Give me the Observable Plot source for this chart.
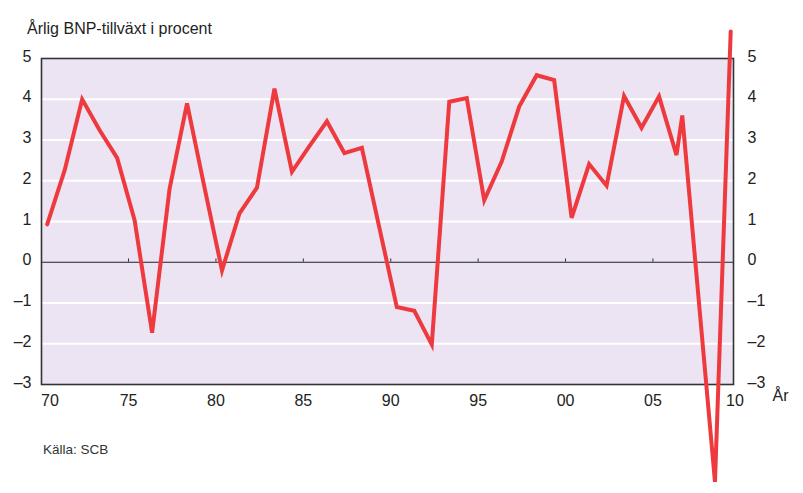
<!DOCTYPE html>
<html>
<head>
<meta charset="utf-8">
<script src="https://cdn.jsdelivr.net/npm/d3@7"></script>
<script src="https://cdn.jsdelivr.net/npm/@observablehq/plot@0.6"></script>
<style>
  html, body { margin: 0; padding: 0; background: #ffffff; }
  #wrap { position: relative; width: 803px; height: 493px; overflow: hidden; font-family: "Liberation Sans", Arial, sans-serif; }
  #title { position: absolute; left: 27px; top: 20px; font-size: 16px; color: #1e1e1e; white-space: nowrap; }
  #caption { position: absolute; left: 43px; top: 442px; font-size: 13.5px; color: #333; white-space: nowrap; }
  #chart { position: absolute; left: 0; top: 0; }
</style>
</head>
<body>
<div id="wrap">
  <div id="chart"></div>
  <div id="title">Årlig BNP-tillväxt i procent</div>
  <div id="caption">Källa: SCB</div>
</div>
<script>
// Year positions of the drawn points (last three as placed in the original drawing)
const years = [1971, 1972, 1973, 1974, 1975, 1976, 1977, 1978, 1979, 1980,
               1981, 1982, 1983, 1984, 1985, 1986, 1987, 1988, 1989, 1990,
               1991, 1992, 1993, 1994, 1995, 1996, 1997, 1998, 1999, 2000,
               2001, 2002, 2003, 2004, 2005, 2006, 2007, 2007.33, 2009.2, 2010.1];
// Annual GDP growth, percent
const growth = [0.93, 2.26, 4.0, 3.24, 2.56, 1.03, -1.73, 1.8, 3.9, 1.83,
                -0.2, 1.2, 1.83, 4.26, 2.22, 2.85, 3.46, 2.68, 2.81, 0.85,
                -1.1, -1.19, -2.02, 3.94, 4.03, 1.52, 2.47, 3.82, 4.59, 4.47,
                1.09, 2.41, 1.88, 4.08, 3.3, 4.07, 2.63, 3.6, -5.39, 5.66];
// Axis ticks
const yTicks = [-3, -2, -1, 0, 1, 2, 3, 4, 5];
const gridValues = [-2, -1, 1, 2, 3, 4];
const xTickYears = [1970, 1975, 1980, 1985, 1990, 1995, 2000, 2005, 2010];
const xTickLabels = ["70", "75", "80", "85", "90", "95", "00", "05", "10"];
const xAxisTitle = "År";

const data = years.map((x, i) => ({x, y: growth[i]}));
const xt = xTickYears.map((x, i) => ({x, label: xTickLabels[i]}));
const inner = xt.slice(1, -1);
const first = xt.slice(0, 1);
const last = xt.slice(-1);
const yt = yTicks.map(v => ({v, label: v < 0 ? "\u2013" + Math.abs(v) : String(v)}));

const font = "Liberation Sans, Arial, sans-serif";
const plot = Plot.plot({
  width: 803,
  height: 493,
  marginLeft: 41,
  marginRight: 70,
  marginTop: 58,
  marginBottom: 109,
  style: {fontFamily: font, background: "transparent", overflow: "visible"},
  x: {domain: [1970.674, 2010.26], axis: null},
  y: {domain: [-3, 5], axis: null},
  marks: [
    Plot.frame({fill: "#ece4f2", stroke: "none"}),
    Plot.ruleY(gridValues, {stroke: "#ffffff", strokeWidth: 2}),
    Plot.ruleY([0], {stroke: "#222", strokeWidth: 1.2}),
    Plot.ruleX(inner, {x: "x", y1: 0, y2: 0.08, dx: 11.4, stroke: "#333", strokeWidth: 1}),
    Plot.frame({stroke: "#333", strokeWidth: 1.6}),
    // left y labels
    Plot.text(yt, {y: "v", text: "label", frameAnchor: "left", textAnchor: "end", dx: -10, dy: -2, fontSize: 16, fill: "#222"}),
    // right y labels
    Plot.text(yt, {y: "v", text: "label", frameAnchor: "right", textAnchor: "start", dx: 14, dy: -2, fontSize: 16, fill: "#222"}),
    // x labels
    Plot.text(inner, {x: "x", y: -3, text: "label", dx: 11.4, dy: 16, fontSize: 16, fill: "#222"}),
    Plot.text(first, {x: "x", y: -3, text: "label", textAnchor: "start", dx: 11.4, dy: 16, fontSize: 16, fill: "#222"}),
    Plot.text(last, {x: "x", y: -3, text: "label", dx: 6, dy: 16, fontSize: 16, fill: "#222"}),
    Plot.text([xAxisTitle], {frameAnchor: "bottom-right", textAnchor: "middle", dx: 47, dy: 16, fontSize: 16, fill: "#222"}),
    Plot.line(data, {x: "x", y: "y", stroke: "#ee3a3e", strokeWidth: 4, strokeLinejoin: "miter", strokeMiterlimit: 4})
  ]
});
document.getElementById("chart").appendChild(plot);
</script>
</body>
</html>
